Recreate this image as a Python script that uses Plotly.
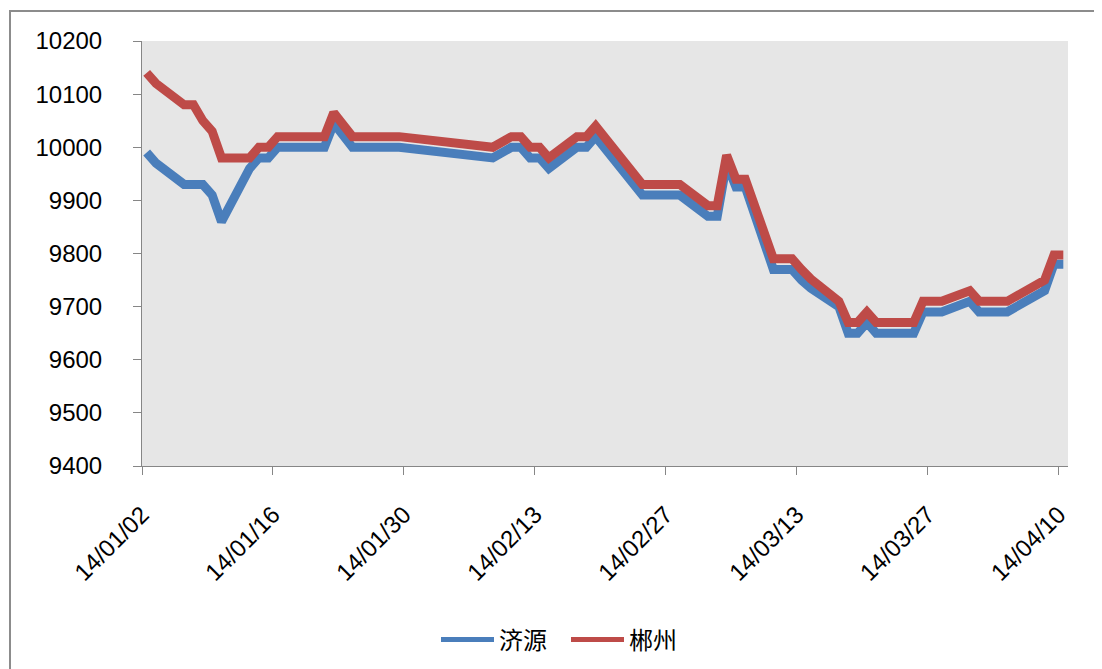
import pandas as pd
import plotly.graph_objects as go

dates = ["2014-01-02", "2014-01-03", "2014-01-06", "2014-01-07", "2014-01-08", "2014-01-09",
         "2014-01-10", "2014-01-13", "2014-01-14", "2014-01-15", "2014-01-16", "2014-01-17",
         "2014-01-20", "2014-01-21", "2014-01-22", "2014-01-24", "2014-01-27", "2014-01-28",
         "2014-01-29", "2014-02-08", "2014-02-10", "2014-02-11", "2014-02-12", "2014-02-13",
         "2014-02-14", "2014-02-17", "2014-02-18", "2014-02-19", "2014-02-24", "2014-02-25",
         "2014-02-26", "2014-02-27", "2014-02-28", "2014-03-03", "2014-03-04", "2014-03-05",
         "2014-03-06", "2014-03-07", "2014-03-10", "2014-03-11", "2014-03-12", "2014-03-13",
         "2014-03-14", "2014-03-17", "2014-03-18", "2014-03-19", "2014-03-20", "2014-03-21",
         "2014-03-24", "2014-03-25", "2014-03-26", "2014-03-27", "2014-03-28", "2014-03-31",
         "2014-04-01", "2014-04-02", "2014-04-03", "2014-04-04", "2014-04-08", "2014-04-09",
         "2014-04-10"]

jiyuan = [9990, 9970, 9930, 9930, 9930, 9910,
          9860, 9960, 9980, 9980, 10000, 10000,
          10000, 10000, 10045, 10000, 10000, 10000,
          10000, 9980, 10000, 10000, 9980, 9980,
          9960, 10000, 10000, 10020, 9910, 9910,
          9910, 9910, 9910, 9870, 9870, 9970,
          9925, 9925, 9770, 9770, 9770, 9750,
          9735, 9700, 9650, 9650, 9670, 9650,
          9650, 9650, 9690, 9690, 9690, 9710,
          9690, 9690, 9690, 9690, 9730, 9780,
          9780]

chenzhou = [10140, 10120, 10080, 10080, 10050, 10030,
            9980, 9980, 10000, 10000, 10020, 10020,
            10020, 10020, 10065, 10020, 10020, 10020,
            10020, 10000, 10020, 10020, 10000, 10000,
            9980, 10020, 10020, 10040, 9930, 9930,
            9930, 9930, 9930, 9890, 9890, 9985,
            9940, 9940, 9790, 9790, 9790, 9770,
            9752, 9710, 9670, 9670, 9690, 9670,
            9670, 9670, 9710, 9710, 9710, 9730,
            9710, 9710, 9710, 9710, 9750, 9797,
            9797]

series_names = ["济源", "郴州"]
series_colors = ["#4A7EBB", "#BE4B48"]

tick_dates = pd.date_range("2014-01-02", "2014-04-10", freq="14D")
tick_labels = [d.strftime("%y/%m/%d") for d in tick_dates]
y_ticks = list(range(9400, 10201, 100))
y_labels = [str(v) for v in y_ticks]

x = pd.to_datetime(dates)
half_day = pd.Timedelta(hours=12)

fig = go.Figure()
for name, vals, col in zip(series_names, [jiyuan, chenzhou], series_colors):
    fig.add_trace(go.Scatter(x=x, y=vals, mode="lines", name=name, showlegend=False,
                             line=dict(color=col, width=9)))
# legend entries (thinner sample lines, as in the reference legend)
for name, col in zip(series_names, series_colors):
    fig.add_trace(go.Scatter(x=[None], y=[None], mode="lines", name=name,
                             line=dict(color=col, width=5)))

# page offset (body margin) so positions below are in screenshot pixels
OFF = 8
W, H = 1102, 669
plot_left, plot_right, plot_top, plot_bottom = 142, 1068, 41, 466
L = plot_left - OFF
T = plot_top - OFF
R = W - (plot_right - OFF)
B = H - (plot_bottom - OFF)
pw, ph = W - L - R, H - T - B

def px(xp):
    return (xp - OFF - L) / pw

def py(yp):
    return (H - B - (yp - OFF)) / ph

fig.update_layout(
    width=W, height=H,
    margin=dict(l=L, r=R, t=T, b=B, autoexpand=False),
    paper_bgcolor="white",
    plot_bgcolor="#E6E6E6",
    font=dict(family="Liberation Sans, Arial, sans-serif", size=24, color="#000000"),
    showlegend=True,
    legend=dict(orientation="h", x=px(566), xanchor="center", y=py(640), yanchor="middle",
                font=dict(family="Noto Sans CJK SC", size=24, color="#000000"),
                bgcolor="rgba(0,0,0,0)", itemwidth=53, entrywidth=62, entrywidthmode="pixels",
                tracegroupgap=0),
    shapes=[dict(type="rect", xref="paper", yref="paper",
                 x0=px(10), x1=px(1120), y0=py(700), y1=py(11),
                 line=dict(color="#8C8C8C", width=2), fillcolor="rgba(0,0,0,0)",
                 layer="below")],
)

fig.update_xaxes(
    type="date", automargin=False,
    range=[tick_dates[0] - half_day, tick_dates[-1] + half_day],
    tickvals=list(tick_dates - half_day),
    ticktext=tick_labels,
    tickangle=-45,
    ticks="outside", ticklen=8, tickcolor="#868686", tickwidth=1,
    showline=True, linecolor="#868686", linewidth=1,
    showgrid=False, zeroline=False,
    ticklabelstandoff=16,
    tickfont=dict(size=24),
)
fig.update_yaxes(
    automargin=False,
    range=[9400, 10200],
    tickvals=y_ticks, ticktext=y_labels,
    ticks="outside", ticklen=8, tickcolor="#868686", tickwidth=1,
    showline=True, linecolor="#868686", linewidth=1,
    showgrid=False, zeroline=False,
    ticklabelstandoff=26,
    tickfont=dict(size=24),
)

fig.write_html("out.html")
